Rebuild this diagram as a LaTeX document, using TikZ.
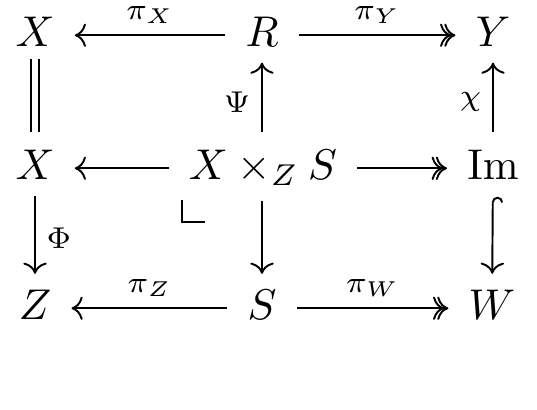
\documentclass[tikz,border=0pt]{standalone}
\usetikzlibrary{arrows.meta}

\tikzset{every picture/.style={line width=0.45pt}}
\tikzset{
  obj/.style={anchor=base, inner xsep=4.5pt, inner ysep=0pt, text height=7.5pt, text depth=2.5pt},
  map/.style={-{Computer Modern Rightarrow}},
  epi/.style={-{Computer Modern Rightarrow[sep=-1.6pt] Computer Modern Rightarrow[]}},
  mono/.style={{Hooks[right]}-{Computer Modern Rightarrow}},
  lbl/.style={inner sep=2.5pt}
}

\begin{document}
\begin{tikzpicture}[x=0.2326pt,y=0.2326pt,yscale=-1,xscale=1]
\useasboundingbox (0,0) rectangle (537,409);

% Text Node
\node[obj] (X1) at (35,46) {$X$};
% Text Node
\node[obj] (R) at (262,46) {$R$};
% Text Node
\node[obj] (Y) at (493,46) {$Y$};
% Text Node
\node[obj] (X2) at (35,179) {$X$};
% Text Node
\node[obj] (P) at (263,179) {$X\times_Z S$};
% Text Node
\node[obj] (Im) at (493,179) {$\mathrm{Im}$};
% Text Node
\node[obj] (Z) at (35,319) {$Z$};
% Text Node
\node[obj] (S) at (262,319) {$S$};
% Text Node
\node[obj] (W) at (492,319) {$W$};

%Straight Lines
\draw [map] (R) -- (X1) node [midway, above, lbl] {$\scriptstyle\pi_X$};
\draw [epi] (R) -- (Y) node [midway, above, lbl] {$\scriptstyle\pi_Y$};
\draw [map] (P) -- (X2);
\draw [epi] (P) -- (Im);
\draw [map] (S) -- (Z) node [midway, above, lbl] {$\scriptstyle\pi_Z$};
\draw [epi] (S) -- (W) node [midway, above, lbl] {$\scriptstyle\pi_W$};

%Straight Lines
\draw [double, double distance=1.5pt, shorten <=0.25pt, shorten >=3.25pt] (X1) -- (X2);
\draw [map, shorten <=3.25pt, shorten >=1.15pt] (P.north -| R) -- (R) node [midway, left, lbl] {$\scriptstyle\Psi$};
\draw [map, shorten <=3.25pt, shorten >=1.15pt] (Im) -- (Y) node [midway, left, lbl] {$\scriptstyle\chi$};
\draw [map, shorten <=1.15pt, shorten >=2.8pt] (X2) -- (Z) node [midway, right, lbl] {$\scriptstyle\Phi$};
\draw [map, shorten <=2.3pt, shorten >=2.8pt] (P.south -| S) -- (S);
\draw [mono, shorten <=1.4pt, shorten >=2.8pt] (Im) -- (W);

% Pullback corner
\draw (182,200) -- (182,222) -- (205,222);

\end{tikzpicture}
\end{document}
